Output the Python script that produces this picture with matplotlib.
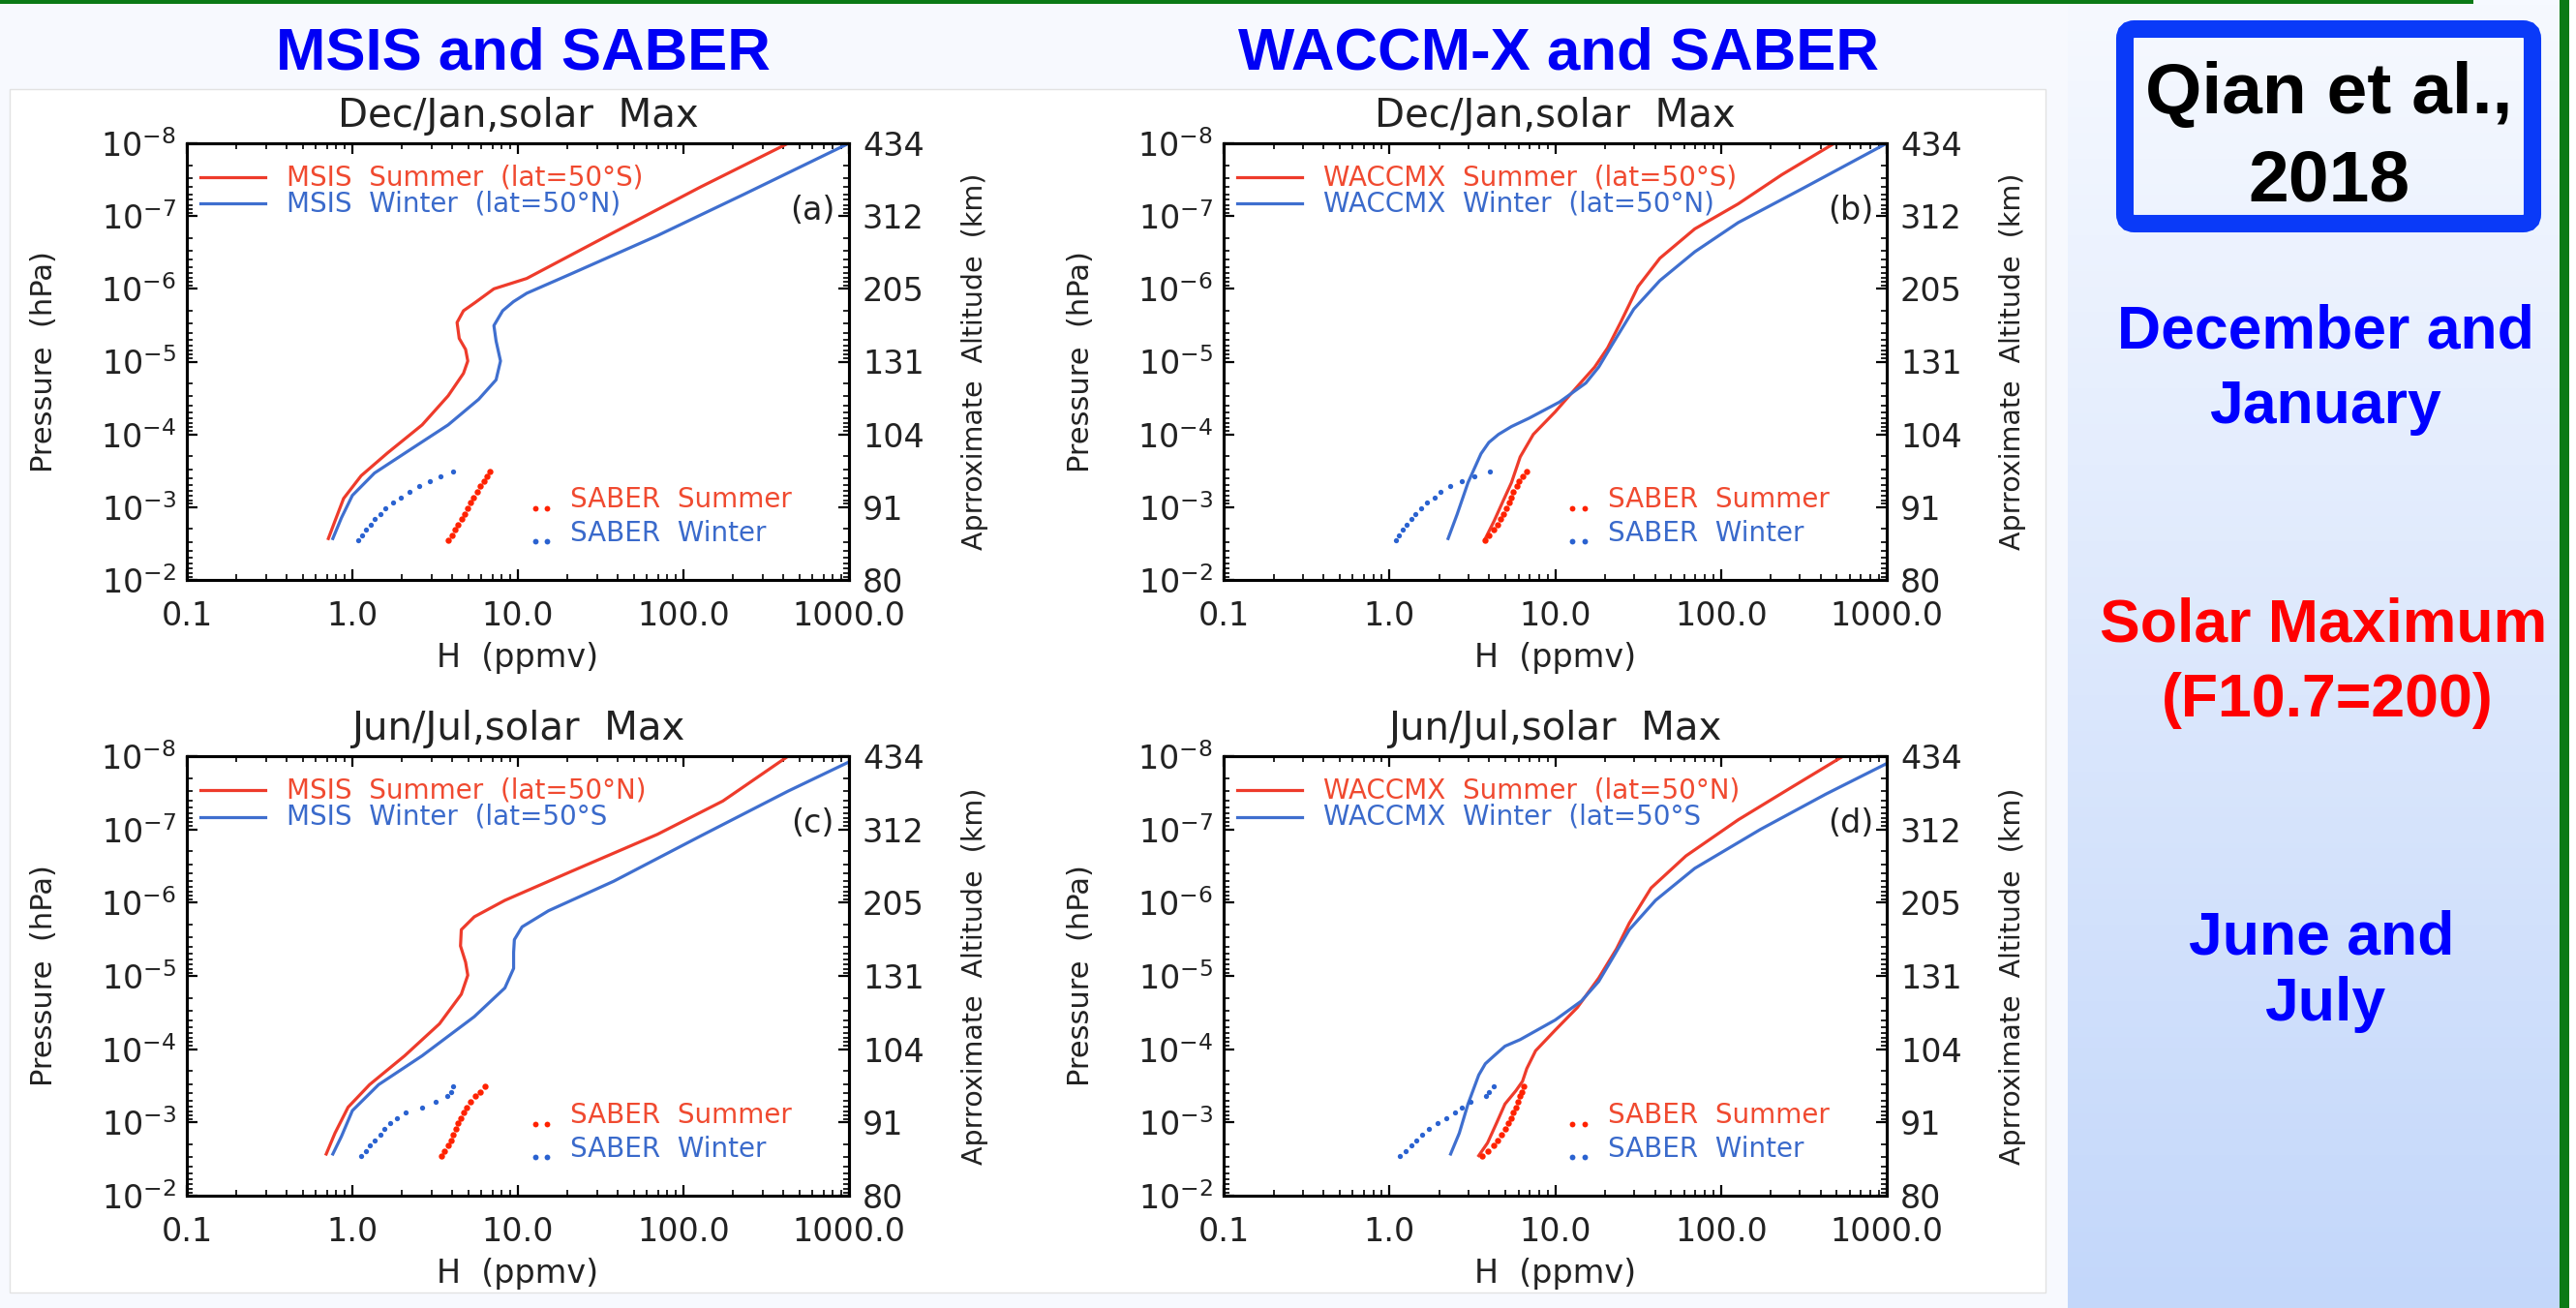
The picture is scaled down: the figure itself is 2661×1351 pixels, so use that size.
import numpy as np
import matplotlib.pyplot as plt
from matplotlib.patches import Rectangle, FancyBboxPatch
from matplotlib.transforms import IdentityTransform
from matplotlib.colors import LinearSegmentedColormap
from matplotlib.ticker import LogLocator, NullFormatter

# ---------------------------------------------------------------
# data (H in ppmv, pressure in hPa)
# ---------------------------------------------------------------
p_ticks = [1e-8, 1e-7, 1e-6, 1e-5, 1e-4, 1e-3, 1e-2]
p_ticklabels = [r'$\mathregular{10^{-8}}$', r'$\mathregular{10^{-7}}$', r'$\mathregular{10^{-6}}$',
                r'$\mathregular{10^{-5}}$', r'$\mathregular{10^{-4}}$', r'$\mathregular{10^{-3}}$',
                r'$\mathregular{10^{-2}}$']
alt_labels = ['434', '312', '205', '131', '104', '91', '80']
h_ticks = [0.1, 1, 10, 100, 1000]
h_ticklabels = ['0.1', '1.0', '10.0', '100.0', '1000.0']

# SABER pressure levels (same for all panels)
saber_p = [2.84e-3, 2.44e-3, 2.06e-3, 1.75e-3, 1.47e-3, 1.24e-3, 1.03e-3,
           8.7e-4, 7.3e-4, 6.2e-4, 5.2e-4, 4.4e-4, 3.8e-4, 3.2e-4]

# (a) MSIS Dec/Jan
a_sum_h = [0.716, 0.785, 0.885, 1.13, 1.63, 2.64, 3.79, 4.69, 4.98, 4.83, 4.42, 4.29, 4.69, 5.50, 7.16, 11.3, 37.9, 127, 429]
a_sum_p = [2.70e-3, 1.55e-3, 7.6e-4, 3.7e-4, 1.8e-4, 7.4e-5, 2.95e-5, 1.45e-5, 9.8e-6, 6.8e-6, 4.8e-6, 2.9e-6,
           2.0e-6, 1.55e-6, 1.0e-6, 7.2e-7, 1.68e-7, 3.98e-8, 1e-8]
a_win_h = [0.762, 0.859, 1.0, 1.36, 2.20, 3.79, 5.79, 7.38, 7.85, 7.38, 7.16, 8.09, 9.40, 11.3, 20.7, 69.5, 233, 1000]
a_win_p = [2.70e-3, 1.40e-3, 6.9e-4, 3.4e-4, 1.66e-4, 7.4e-5, 3.3e-5, 1.78e-5, 9.8e-6, 5.2e-6, 3.2e-6, 2.0e-6,
           1.5e-6, 1.15e-6, 6.3e-7, 1.86e-7, 5.0e-8, 1e-8]
a_saber_sum = [3.79, 3.98, 4.18, 4.36, 4.55, 4.75, 4.95, 5.17, 5.39, 5.66, 5.94, 6.24, 6.50, 6.74]
a_saber_win = [1.09, 1.15, 1.21, 1.29, 1.37, 1.47, 1.59, 1.75, 1.95, 2.20, 2.53, 2.92, 3.42, 4.03]

# (b) WACCM-X Dec/Jan
b_sum_h = [3.79, 4.28, 4.83, 5.45, 6.15, 7.38, 10.0, 13.6, 17.3, 20.7, 24.8, 31.6, 42.8, 69.5, 127, 233, 483]
b_sum_p = [2.70e-3, 1.55e-3, 8.4e-4, 4.6e-4, 2.04e-4, 1.0e-4, 4.9e-5, 2.2e-5, 1.19e-5, 6.5e-6, 2.9e-6, 9.3e-7,
           3.8e-7, 1.5e-7, 6.8e-8, 2.7e-8, 1e-8]
b_win_h = [2.26, 2.56, 2.98, 3.57, 3.98, 4.55, 5.45, 6.95, 10.6, 15.3, 18.3, 22.0, 29.8, 42.8, 69.5, 127, 316, 1000]
b_win_p = [2.70e-3, 1.26e-3, 4.6e-4, 1.84e-4, 1.29e-4, 1.0e-4, 7.8e-5, 6.0e-5, 3.6e-5, 1.97e-5, 1.19e-5, 5.9e-6,
           1.9e-6, 7.7e-7, 3.1e-7, 1.23e-7, 4.1e-8, 1e-8]
b_saber_sum = [3.79, 3.98, 4.28, 4.50, 4.69, 4.89, 5.07, 5.26, 5.45, 5.59, 5.86, 6.08, 6.38, 6.74]
b_saber_win = [1.09, 1.14, 1.21, 1.27, 1.36, 1.44, 1.55, 1.69, 1.87, 2.04, 2.34, 2.72, 3.26, 4.03]

# (c) MSIS Jun/Jul
c_sum_h = [0.695, 0.785, 0.942, 1.27, 2.07, 3.36, 4.55, 4.98, 4.83, 4.50, 4.55, 5.45, 8.34, 20.7, 69.5, 173, 429]
c_sum_p = [2.70e-3, 1.40e-3, 6.2e-4, 3.05e-4, 1.23e-4, 4.5e-5, 1.78e-5, 9.8e-6, 6.5e-6, 3.9e-6, 2.34e-6, 1.56e-6,
           9.3e-7, 3.8e-7, 1.17e-7, 4.1e-8, 1e-8]
c_win_h = [0.762, 0.859, 1.0, 1.44, 2.64, 5.45, 8.34, 9.42, 9.42, 9.52, 10.6, 15.3, 37.9, 127, 429, 1000]
c_win_p = [2.70e-3, 1.55e-3, 6.9e-4, 3.05e-4, 1.23e-4, 3.6e-5, 1.46e-5, 7.9e-6, 4.8e-6, 3.2e-6, 2.14e-6, 1.29e-6,
           5.1e-7, 1.23e-7, 3.0e-8, 1.2e-8]
c_saber_sum = [3.46, 3.61, 3.79, 3.94, 4.08, 4.23, 4.36, 4.52, 4.69, 4.89, 5.20, 5.56, 5.94, 6.35]
c_saber_win = [1.13, 1.20, 1.28, 1.37, 1.47, 1.57, 1.69, 1.85, 2.09, 2.64, 3.20, 3.75, 3.94, 4.08]

# (d) WACCM-X Jun/Jul
d_sum_h = [3.46, 3.91, 4.42, 4.98, 5.79, 6.35, 6.74, 7.62, 10.0, 13.6, 18.3, 23.4, 28.0, 37.9, 61.5, 127, 264, 546]
d_sum_p = [2.84e-3, 1.9e-3, 1.03e-3, 5.6e-4, 3.7e-4, 2.75e-4, 1.84e-4, 1.05e-4, 5.5e-5, 2.7e-5, 1.07e-5, 4.3e-6,
           1.9e-6, 6.3e-7, 2.3e-7, 7.4e-8, 2.7e-8, 1e-8]
d_win_h = [2.34, 2.64, 2.98, 3.46, 3.79, 4.28, 4.98, 6.15, 10.0, 14.4, 18.3, 22.0, 28.0, 40.3, 69.5, 173, 429, 1000]
d_win_p = [2.70e-3, 1.40e-3, 5.6e-4, 2.25e-4, 1.58e-4, 1.23e-4, 9.1e-5, 7.4e-5, 4.0e-5, 2.2e-5, 1.19e-5, 5.9e-6,
           2.34e-6, 9.3e-7, 3.4e-7, 1.0e-7, 3.3e-8, 1.26e-8]
d_saber_sum = [3.61, 3.91, 4.23, 4.50, 4.75, 4.98, 5.20, 5.39, 5.59, 5.79, 5.97, 6.15, 6.31, 6.47]
d_saber_win = [1.16, 1.25, 1.36, 1.46, 1.57, 1.72, 1.95, 2.20, 2.48, 2.72, 3.07, 3.84, 3.98, 4.28]

# ---------------------------------------------------------------
W, H = 2661, 1351
RED, BLUE = '#ee3b2b', '#3f6fcf'
RED_TXT, BLUE_TXT = '#f04a30', '#3a6acb'
SAB_RED, SAB_BLUE = '#ff2200', '#2a62d0'
INK = '#222222'
GREEN = '#0b7a16'

plt.rcParams['font.family'] = 'DejaVu Sans'
fig = plt.figure(figsize=(W / 100, H / 100), dpi=100)
fig.patch.set_facecolor('#f7f9fe')


def rect_px(x0, y0, w, h, **kw):
    # pixel rectangle, origin at top-left
    r = Rectangle((x0, H - y0 - h), w, h, transform=IdentityTransform(), **kw)
    fig.add_artist(r)
    return r


def axes_px(x0, y0, x1, y1, **kw):
    return fig.add_axes([x0 / W, 1 - y1 / H, (x1 - x0) / W, (y1 - y0) / H], **kw)


def text_px(x, y, s, **kw):
    fig.text(x / W, 1 - y / H, s, **kw)


# slide background pieces
grad_ax = axes_px(2136, 0, 2644, H, zorder=-4)
grad_cmap = LinearSegmentedColormap.from_list('bg', ['#f6f9ff', '#c3d7fa'])
grad_ax.imshow(np.linspace(0, 1, 256).reshape(-1, 1), cmap=grad_cmap, aspect='auto', extent=[0, 1, 0, 1])
grad_ax.axis('off')

rect_px(10, 92, 2103, 1243, facecolor='white', edgecolor='#e2e2e2', lw=1, zorder=-3)
rect_px(0, 0, 2555, 4, facecolor=GREEN, edgecolor='none', zorder=5)
rect_px(2644, 0, 10, H, facecolor=GREEN, edgecolor='none', zorder=5)
rect_px(2654, 0, 7, H, facecolor='white', edgecolor='none', zorder=5)


def draw_panel(box, title, tag, leg_sum, leg_win, sum_h, sum_p, win_h, win_p, sab_sum, sab_win):
    ax = axes_px(*box)
    ax.set_facecolor('white')
    ax.set_xscale('log')
    ax.set_yscale('log')
    ax.set_xlim(0.1, 1000)
    ax.set_ylim(1e-2, 1e-8)

    ax.plot(sum_h, sum_p, color=RED, lw=2.3, solid_joinstyle='round')
    ax.plot(win_h, win_p, color=BLUE, lw=2.3, solid_joinstyle='round')
    ax.plot(sab_sum, saber_p, 'o', color=SAB_RED, ms=4.6, mec='none')
    ax.plot(sab_win, saber_p, 'o', color=SAB_BLUE, ms=3.8, mec='none')

    ax.set_xticks(h_ticks)
    ax.set_xticklabels(h_ticklabels)
    ax.set_yticks(p_ticks)
    ax.set_yticklabels(p_ticklabels)
    ax.xaxis.set_minor_locator(LogLocator(base=10, subs=np.arange(2, 10), numticks=20))
    ax.yaxis.set_minor_locator(LogLocator(base=10, subs=np.arange(2, 10), numticks=20))
    ax.xaxis.set_minor_formatter(NullFormatter())
    ax.yaxis.set_minor_formatter(NullFormatter())
    ax.tick_params(which='both', direction='in', top=True, right=False, colors='black', labelcolor=INK)
    ax.tick_params(which='major', length=8, width=1.6, labelsize=24)
    ax.tick_params(which='minor', length=4, width=1.2)
    ax.tick_params(axis='x', pad=15)
    ax.tick_params(axis='y', pad=8)
    for sp in ax.spines.values():
        sp.set_linewidth(2.2)

    ax2 = ax.twinx()
    ax2.set_yscale('log')
    ax2.set_ylim(1e-2, 1e-8)
    ax2.set_yticks(p_ticks)
    ax2.set_yticklabels(alt_labels)
    ax2.yaxis.set_minor_locator(LogLocator(base=10, subs=np.arange(2, 10), numticks=20))
    ax2.yaxis.set_minor_formatter(NullFormatter())
    ax2.tick_params(which='both', direction='in', labelcolor=INK)
    ax2.tick_params(which='major', length=8, width=1.6, labelsize=24, pad=10)
    ax2.tick_params(which='minor', length=4, width=1.2)
    for sp in ax2.spines.values():
        sp.set_linewidth(2.2)

    tr = ax.transAxes
    ax.text(0.5, 1.062, title, transform=tr, ha='center', va='center', fontsize=29, color=INK)
    ax.text(0.5, -0.178, 'H  (ppmv)', transform=tr, ha='center', va='center', fontsize=24, color=INK)
    ax.text(-0.215, 0.5, 'Pressure  (hPa)', transform=tr, rotation=90, ha='center', va='center',
            fontsize=22, color=INK)
    ax.text(1.19, 0.5, 'Aprroximate  Altitude  (km)', transform=tr, rotation=90, ha='center',
            va='center', fontsize=20.5, color=INK)
    ax.text(0.945, 0.846, tag, transform=tr, ha='center', va='center', fontsize=24, color=INK)

    # model legend
    ax.plot([0.02, 0.118], [0.922, 0.922], transform=tr, color=RED, lw=2.3)
    ax.plot([0.02, 0.118], [0.862, 0.862], transform=tr, color=BLUE, lw=2.3)
    ax.text(0.151, 0.922, leg_sum, transform=tr, va='center', fontsize=20, color=RED_TXT)
    ax.text(0.151, 0.862, leg_win, transform=tr, va='center', fontsize=20, color=BLUE_TXT)

    # SABER legend
    ax.plot([0.526, 0.544], [0.163, 0.163], 'o', transform=tr, color=SAB_RED, ms=4.2, mec='none')
    ax.plot([0.526, 0.544], [0.088, 0.088], 'o', transform=tr, color=SAB_BLUE, ms=4.2, mec='none')
    ax.text(0.579, 0.183, 'SABER  Summer', transform=tr, va='center', fontsize=20, color=RED_TXT)
    ax.text(0.579, 0.106, 'SABER  Winter', transform=tr, va='center', fontsize=20, color=BLUE_TXT)
    return ax


draw_panel((193, 148, 877, 599), 'Dec/Jan,solar  Max', '(a)',
           'MSIS  Summer  (lat=50°S)', 'MSIS  Winter  (lat=50°N)',
           a_sum_h, a_sum_p, a_win_h, a_win_p, a_saber_sum, a_saber_win)
draw_panel((1264, 148, 1949, 599), 'Dec/Jan,solar  Max', '(b)',
           'WACCMX  Summer  (lat=50°S)', 'WACCMX  Winter  (lat=50°N)',
           b_sum_h, b_sum_p, b_win_h, b_win_p, b_saber_sum, b_saber_win)
draw_panel((193, 781, 877, 1235), 'Jun/Jul,solar  Max', '(c)',
           'MSIS  Summer  (lat=50°N)', 'MSIS  Winter  (lat=50°S',
           c_sum_h, c_sum_p, c_win_h, c_win_p, c_saber_sum, c_saber_win)
draw_panel((1264, 781, 1949, 1235), 'Jun/Jul,solar  Max', '(d)',
           'WACCMX  Summer  (lat=50°N)', 'WACCMX  Winter  (lat=50°S',
           d_sum_h, d_sum_p, d_win_h, d_win_p, d_saber_sum, d_saber_win)

# slide headings
bold = dict(family='Liberation Sans', weight='bold', ha='center', va='baseline')
text_px(540, 71, 'MSIS and SABER', fontsize=44.5, color='#0000f5', **bold)
text_px(1610, 71, 'WACCM-X and SABER', fontsize=44.5, color='#0000f5', **bold)

# reference box on the right
box = FancyBboxPatch((2195, H - 231), 421, 201, boxstyle='round,pad=0,rounding_size=10',
                     transform=IdentityTransform(), facecolor='none', edgecolor='#0a3af8', lw=13, zorder=3)
fig.add_artist(box)
text_px(2406, 117, 'Qian et al.,', fontsize=54, color='black', **bold)
text_px(2406, 207, '2018', fontsize=54, color='black', **bold)

text_px(2402, 360, 'December and', fontsize=45, color='#0000ff', **bold)
text_px(2402, 437, 'January', fontsize=45, color='#0000ff', **bold)
text_px(2400, 662, 'Solar Maximum', fontsize=45, color='#ff0000', **bold)
text_px(2404, 740, '(F10.7=200)', fontsize=45, color='#ff0000', **bold)
text_px(2398, 986, 'June and', fontsize=45, color='#0000ff', **bold)
text_px(2402, 1054, 'July', fontsize=45, color='#0000ff', **bold)

fig.savefig('out.png', dpi=100, facecolor=fig.get_facecolor())
